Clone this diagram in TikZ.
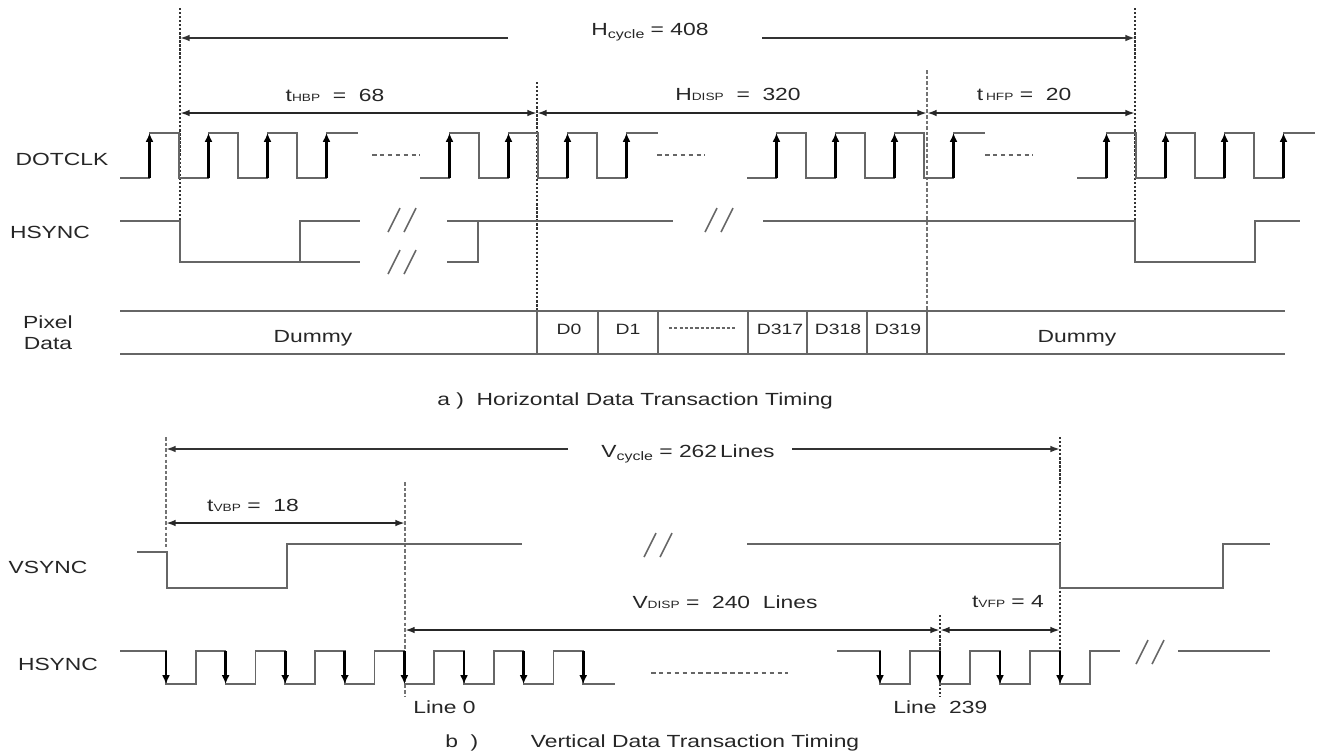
\documentclass[tikz,border=0pt]{standalone}
\usepackage{fontspec}
\setmainfont{Liberation Sans}[FakeStretch=1.3]
\usepackage{tikz}
\usetikzlibrary{arrows.meta, positioning}

\newcommand{\smsub}[1]{{\fontsize{6}{6}\selectfont #1}}
\newcommand{\lowsub}[1]{\raisebox{-0.4ex}{\fontsize{7}{7}\selectfont #1}}

\tikzset{
	sig/.style={line width=0.9pt, black!60},
	dimline/.style={line width=1pt, black!80, -{Latex[length=5.5pt, width=3.8pt]}},
	dimbold/.style={line width=1.5pt, black!85, {Latex[length=5.5pt, width=3.8pt]}-{Latex[length=5.5pt, width=3.8pt]}},
	clkedge/.style={line width=1.5pt, black, -{Latex[length=5pt, width=4.5pt]}},
	vmark/.style={line width=1.3pt, black!80, densely dotted},
	vthin/.style={line width=0.6pt, black!55, dash pattern=on 2pt off 1.2pt},
	gapdash/.style={line width=0.8pt, black!60, dash pattern=on 2.6pt off 1.9pt},
	lbl/.style={font=\fontsize{10}{12}\selectfont, text=black!85, inner sep=0pt},
	cell/.style={font=\fontsize{8.5}{10}\selectfont, text=black!85, inner sep=0pt},
	pics/brk/.style={code={\draw[sig] (-14,12) -- (-2,-12) (2,12) -- (14,-12);}}
}

\begin{document}
\begin{tikzpicture}[x=0.02cm, y=-0.02cm]
	\useasboundingbox (0,0) rectangle (1317,755);

	% a) horizontal timing
	\node[lbl] (dotclk) at (62,159) {DOTCLK};
	\node[lbl, anchor=base] (hsynca) at (50,238) {HSYNC};
	\node[lbl, align=center] (pixdata) at (48,333) {Pixel\\Data};

	\draw[vmark] (180,8) -- (180,232);
	\draw[vmark] (1135,8) -- (1135,232);
	\draw[vmark] (537,82) -- (537,311);
	\draw[vthin] (927,70) -- (927,311);

	\coordinate (h0) at (180,38);
	\coordinate (h1) at (1135,38);
	\coordinate (hg0) at (508,38);
	\coordinate (hg1) at (762,38);
	\node[lbl, anchor=base] (hcyc) at (650,35) {H\lowsub{cycle} = 408};
	\draw[dimline] (hg0) -- (h0);
	\draw[dimline] (hg1) -- (h1);

	\coordinate (b0) at (180,113);
	\coordinate (b1) at (537,113);
	\coordinate (b2) at (927,113);
	\coordinate (b3) at (1135,113);
	\draw[dimbold] (b0) -- (b1);
	\draw[dimbold] (b1) -- (b2);
	\draw[dimbold] (b2) -- (b3);
	\node[lbl, anchor=base] (thbp) at (335,101) {t\smsub{HBP}\ \ =\ \ 68};
	\node[lbl, anchor=base] (hdisp) at (738,100) {H\smsub{DISP}\ \ =\ \ 320};
	\node[lbl, anchor=base] (thfp) at (1024,100) {t\,\smsub{HFP}\ =\ \ 20};

	% DOTCLK
	\foreach \s in {120,420,747,1077} {
		\draw[sig] (\s,178) foreach \k in {0,1,2} {-- ++(29.5,0) -- ++(0,-45) -- ++(29.5,0) -- ++(0,45)}
			-- ++(29.5,0) -- ++(0,-45) -- ++(31,0);
		\foreach \k in {0,...,3}
			\draw[clkedge] (\s+29.5+59*\k,178) -- ++(0,-45);
	}
	\draw[gapdash] (372,155) -- (420,155);
	\draw[gapdash] (657,155) -- (705,155);
	\draw[gapdash] (985,155) -- (1033,155);

	% HSYNC
	\draw[sig] (120,221) -| (180,262) -| (300,221) -- (360,221);
	\draw[sig] (300,262) -- (360,262);
	\pic at (402,220) {brk};
	\pic at (402,262) {brk};
	\draw[sig] (447,262) -| (478,221);
	\draw[sig] (447,221) -- (673,221);
	\pic at (719,220) {brk};
	\draw[sig] (763,221) -| (1135,262) -| (1255,221) -- (1300,221);

	% pixel data
	\draw[sig] (120,311) -- (1285,311) (120,354) -- (1285,354);
	\foreach \x in {537,598,658,748,807,867,927}
		\draw[sig] (\x,311) -- (\x,354);
	\node[lbl, anchor=base] (dummya) at (313,342) {Dummy};
	\node[cell, anchor=base] (d0) at (569,334) {D0};
	\node[cell, anchor=base] (d1) at (628,334) {D1};
	\draw[gapdash, dash pattern=on 1.8pt off 1.2pt] (669,328) -- (735,328);
	\node[cell, anchor=base] (d317) at (780,334) {D317};
	\node[cell, anchor=base] (d318) at (838,334) {D318};
	\node[cell, anchor=base] (d319) at (898,334) {D319};
	\node[lbl, anchor=base] (dummyb) at (1077,342) {Dummy};

	\node[lbl, anchor=base west] (capa) at (437,405) {a )\ \ Horizontal Data Transaction Timing};

	% b) vertical timing
	\node[lbl, anchor=base] (vsync) at (48,573) {VSYNC};
	\node[lbl, anchor=base] (hsyncb) at (58,670) {HSYNC};

	\draw[vthin] (166,437) -- (166,547);
	\draw[vthin] (405,482) -- (405,697);
	\draw[vmark] (1060,437) -- (1060,682);
	\draw[vmark] (940,615) -- (940,697);

	\coordinate (v0) at (166,449);
	\coordinate (v1) at (1060,449);
	\coordinate (vg0) at (568,449);
	\coordinate (vg1) at (792,449);
	\node[lbl, anchor=base] (vcyc) at (688,457) {V\lowsub{cycle} = 262\,Lines};
	\draw[dimline] (vg0) -- (v0);
	\draw[dimline] (vg1) -- (v1);

	\coordinate (t0) at (166,523);
	\coordinate (t1) at (405,523);
	\draw[dimbold] (t0) -- (t1);
	\node[lbl, anchor=base] (tvbp) at (253,511) {t\smsub{VBP} =\ \ 18};

	\coordinate (w0) at (405,630);
	\coordinate (w1) at (940,630);
	\coordinate (w2) at (1060,630);
	\draw[dimbold] (w0) -- (w1);
	\draw[dimbold] (w1) -- (w2);
	\node[lbl, anchor=base] (vdisp) at (725,608) {V\smsub{DISP} =\ \ 240\ \ Lines};
	\node[lbl, anchor=base] (tvfp) at (1008,607) {t\smsub{VFP} =\ 4};

	% VSYNC
	\draw[sig] (137,552) -- (167,552) |- (287,588) |- (522,544);
	\pic at (658,545) {brk};
	\draw[sig] (747,544) -| (1060,588) -| (1223,544) -- (1270,544);

	% HSYNC lines
	\draw[sig] (120,651) foreach \k in {0,...,6} {-- (166+59.6*\k,651) -- ++(0,33) -- ++(29.8,0) -- ++(0,-33)}
		-- (583,651) -- (583,684) -- (615,684);
	\foreach \k in {0,...,7}
		\draw[clkedge] (166+59.6*\k,651) -- ++(0,33);
	\draw[gapdash] (651,673) -- (788,673);
	\draw[sig] (837,651) foreach \k in {0,...,3} {-- (880+60*\k,651) -- ++(0,33) -- ++(30,0) -- ++(0,-33)} -- (1120,651);
	\foreach \k in {0,...,3}
		\draw[clkedge] (880+60*\k,651) -- ++(0,33);
	\pic at (1150,652) {brk};
	\draw[sig] (1178,651) -- (1270,651);

	\node[lbl, anchor=base west] (line0) at (413,713) {Line 0};
	\node[lbl, anchor=base west] (line239) at (893,713) {Line\ \ 239};
	\node[lbl, anchor=base west] (capb) at (445,747) {b\ \ )\hspace{1.05cm}Vertical Data Transaction Timing};
\end{tikzpicture}
\end{document}
